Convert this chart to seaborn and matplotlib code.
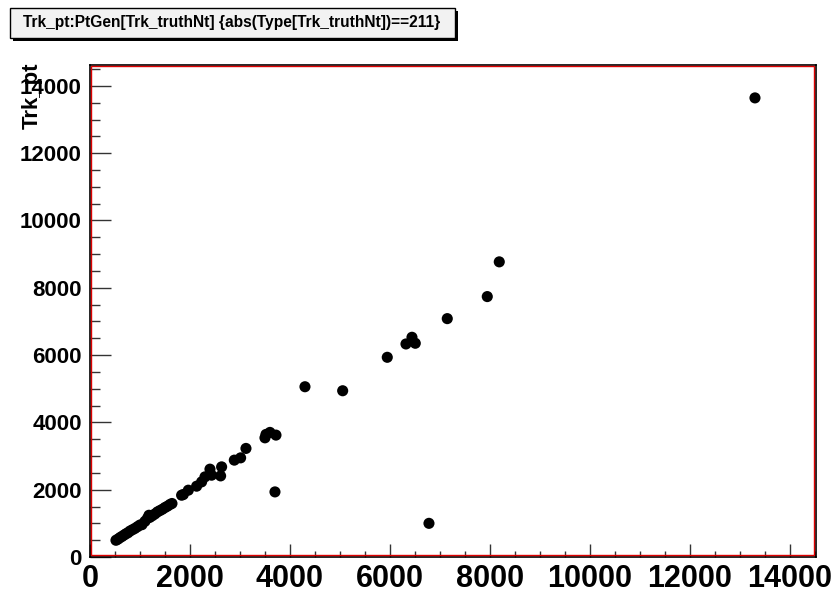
import matplotlib
matplotlib.use("Agg")
import matplotlib.pyplot as plt
from matplotlib.patches import Rectangle
from matplotlib.ticker import MultipleLocator
import seaborn as sns
import pandas as pd

# values
pt_gen = [520, 560, 600, 640, 680, 720, 760, 800, 850, 900, 950, 1000, 1040,
          1100, 1150, 1200, 1180, 1250, 1300, 1350, 1400, 1450, 1500, 1550,
          1600, 1640,
          1833, 1867, 1967, 2133, 2233, 2300, 2400, 2433, 2633, 2613, 2887,
          3013, 3120, 3500, 3520, 3600, 3720, 3700,
          4300, 5054, 5946, 6320, 6440, 6506, 6780, 7146, 7946, 8186, 13300]
trk_pt = [497, 530, 575, 610, 650, 690, 720, 770, 810, 850, 900, 950, 960,
          1060, 1150, 1180, 1240, 1230, 1280, 1340, 1380, 1420, 1470, 1510,
          1560, 1590,
          1836, 1856, 1985, 2104, 2232, 2381, 2610, 2431, 2678, 2410, 2878,
          2946, 3226, 3541, 3642, 3702, 3622, 1934,
          5059, 4940, 5934, 6330, 6529, 6351, 1000, 7083, 7738, 8770, 13642]

title = "Trk_pt:PtGen[Trk_truthNt] {abs(Type[Trk_truthNt])==211}"
x_ticks = list(range(0, 14001, 2000))
y_ticks = list(range(0, 14001, 2000))

df = pd.DataFrame({"PtGen": pt_gen, "Trk_pt": trk_pt})

sns.set_style("white")
plt.rcParams["font.family"] = ["Liberation Sans", "DejaVu Sans"]
plt.rcParams["font.weight"] = "bold"
plt.rcParams["text.color"] = "black"
plt.rcParams["xtick.labelcolor"] = "black"
plt.rcParams["ytick.labelcolor"] = "black"

fig = plt.figure(figsize=(8.4, 5.94), dpi=100)
ax = fig.add_axes([0.1071, 0.0623, 0.8643, 0.8283])

sns.scatterplot(data=df, x="PtGen", y="Trk_pt", color="black", s=64,
                edgecolor="none", ax=ax, legend=False)

ax.set_xlim(0, 14520)
ax.set_ylim(0, 14620)
ax.set_xticks(x_ticks)
ax.set_yticks(y_ticks)
ax.set_xticklabels([str(v) for v in x_ticks], fontsize=22, fontweight="bold")
ax.set_yticklabels([str(v) for v in y_ticks], fontsize=16, fontweight="bold")
ax.xaxis.set_minor_locator(MultipleLocator(500))
ax.yaxis.set_minor_locator(MultipleLocator(500))
ax.tick_params(axis="x", which="major", direction="in", length=9.4, width=1,
               color="#333333", labelcolor="black", pad=5, bottom=True, top=False)
ax.tick_params(axis="x", which="minor", direction="in", length=4.3, width=1,
               color="#333333", bottom=True, top=False)
ax.tick_params(axis="y", which="major", direction="in", length=15, width=1,
               color="#333333", labelcolor="black", pad=6, left=True, right=False)
ax.tick_params(axis="y", which="minor", direction="in", length=7.2, width=1,
               color="#333333", left=True, right=False)
ax.set_xlabel("")
ax.set_ylabel("")

for s in ax.spines.values():
    s.set_color("black")
    s.set_linewidth(1.2)
dx, dy = 1.5 / 726, 1.5 / 492
ax.add_patch(Rectangle((dx, dy), 1 - 2 * dx, 1 - 2 * dy, transform=ax.transAxes,
                       fill=False, edgecolor="#dd0000", linewidth=1,
                       clip_on=False, zorder=5))

fig.text(0.038, 0.894, "Trk_pt", rotation=90, ha="center", va="top",
         fontsize=16, fontweight="bold", color="black")

# title box with shadow, ROOT style
W, H = 840, 594
fig.patches.append(Rectangle((13 / W, 1 - 41 / H), 445 / W, 30 / H,
                             transform=fig.transFigure, facecolor="black",
                             edgecolor="none", zorder=1))
fig.patches.append(Rectangle((10 / W, 1 - 38 / H), 445 / W, 30 / H,
                             transform=fig.transFigure, facecolor="#f2f2f2",
                             edgecolor="black", linewidth=1, zorder=2))
fig.text(232 / W, 1 - 23 / H, title, ha="center", va="center",
         fontsize=11.2, fontweight="bold", color="black", zorder=3)

fig.savefig("out.png", dpi=100)
